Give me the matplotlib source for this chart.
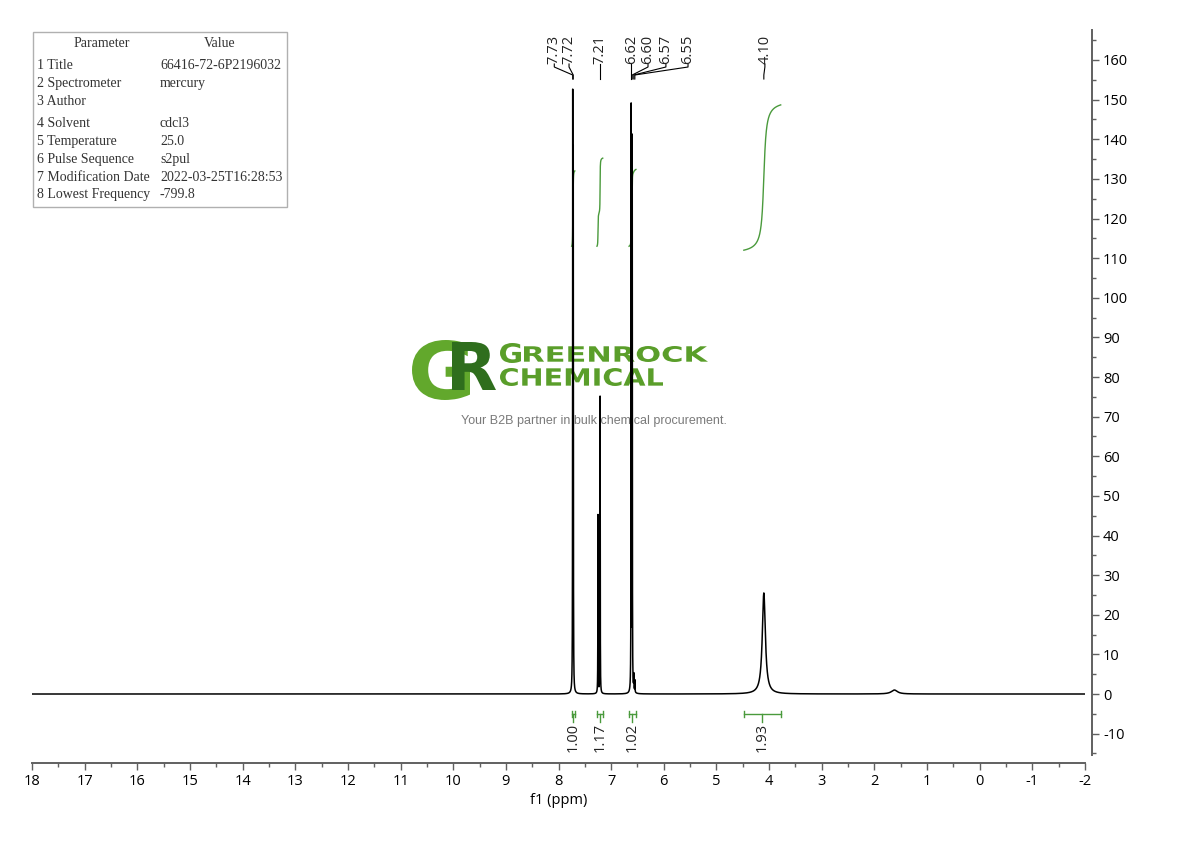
import numpy as np
import matplotlib
matplotlib.use("Agg")
import matplotlib.pyplot as plt
from matplotlib.ticker import MultipleLocator
from matplotlib.textpath import TextPath
from matplotlib.patches import PathPatch, Rectangle
from matplotlib.font_manager import FontProperties
from matplotlib.transforms import Affine2D

plt.rcParams['axes.unicode_minus'] = False
plt.rcParams['font.family'] = ['Open Sans', 'DejaVu Sans']

# peak list: shift (ppm), height, half width (ppm)
peak_ppm = [7.73, 7.72, 7.25, 7.21, 6.62, 6.60, 6.57, 6.55, 4.10, 1.62]
peak_height = [145, 130, 45, 75, 147, 139, 4, 3, 25.5, 1.0]
peak_hwhm = [0.0025, 0.0025, 0.0025, 0.0025, 0.0025, 0.0025, 0.003, 0.003, 0.035, 0.07]

# picked peak labels
label_ppm = [7.73, 7.72, 7.21, 6.62, 6.60, 6.57, 6.55, 4.10]

# integrals: region (from, to), value
int_from = [7.75, 7.27, 6.66, 4.48]
int_to = [7.69, 7.16, 6.53, 3.78]
int_value = [1.00, 1.17, 1.02, 1.93]
int_base = [113, 113, 113, 112]

params = [("1 Title", "66416-72-6P2196032"),
          ("2 Spectrometer", "mercury"),
          ("3 Author", ""),
          ("4 Solvent", "cdcl3"),
          ("5 Temperature", "25.0"),
          ("6 Pulse Sequence", "s2pul"),
          ("7 Modification Date", "2022-03-25T16:28:53"),
          ("8 Lowest Frequency", "-799.8")]

W, H = 1190, 841
fig = plt.figure(figsize=(W / 100, H / 100), dpi=100)
ax = fig.add_axes([32 / W, 78 / H, 1053 / W, 733 / H])
ax.patch.set_visible(False)

ppm = np.arange(18.0, -2.0, -0.0005)
spec = np.zeros_like(ppm)
for p, h, w in zip(peak_ppm, peak_height, peak_hwhm):
    spec += h * w ** 2 / ((ppm - p) ** 2 + w ** 2)

ax.plot(ppm, spec, color='black', lw=1.1, zorder=3)

# integral curves and brackets
green = '#4a9a3c'
for a, b, v, base in zip(int_from, int_to, int_value, int_base):
    m = (ppm <= a) & (ppm >= b)
    cs = np.cumsum(spec[m])
    ax.plot(ppm[m], base + 19 * v * cs / cs[-1], color=green, lw=1.0, zorder=2)
    ax.plot([a, b], [-5.05, -5.05], color=green, lw=1.0)
    ax.plot([a, a], [-4.2, -5.9], color=green, lw=1.0)
    ax.plot([b, b], [-4.2, -5.9], color=green, lw=1.0)
    c = (a + b) / 2
    ax.plot([c, c], [-5.05, -7.0], color=green, lw=1.0)
    ax.text(c, -7.4, f"{v:.2f}", rotation=90, ha='center', va='top',
            fontsize=10.5, color='#222222')

# peak labels on top
tr = ax.get_xaxis_transform()
def fy(ypx):
    return (763 - ypx) / 733

label_pos = [8.08, 7.80, 7.21, 6.62, 6.30, 5.96, 5.54, 4.08]
for p, lp in zip(label_ppm, label_pos):
    ax.text(lp, fy(64), f"{p:.2f}", rotation=90, ha='center', va='bottom',
            fontsize=10.5, color='#222222', transform=tr)
    ax.plot([lp, lp, p, p], [fy(64), fy(67), fy(75), fy(79)], color='black',
            lw=0.8, transform=tr, clip_on=False)

ax.set_xlim(18, -2)
ax.set_ylim(-17.41, 167.57)
ax.set_xticks(range(18, -3, -1))
ax.set_xticklabels([str(t) for t in range(18, -3, -1)])
ax.xaxis.set_minor_locator(MultipleLocator(0.5))
ax.yaxis.tick_right()
ax.set_yticks(range(-10, 161, 10))
ax.yaxis.set_minor_locator(MultipleLocator(5))
for s in ['top', 'left']:
    ax.spines[s].set_visible(False)
ax.spines['right'].set_position(('outward', 5))
ax.spines['right'].set_bounds(-15.5, 167.57)
for s in ['right', 'bottom']:
    ax.spines[s].set_color('#606060')
    ax.spines[s].set_linewidth(1.4)
ax.tick_params(axis='both', which='major', length=5, width=1.0, color='#606060',
               labelsize=10.5, pad=3)
ax.tick_params(axis='both', which='minor', length=3, width=1.0, color='#606060')
ax.set_xlabel("f1 (ppm)", fontsize=10.5, labelpad=3)

# parameter table
fig.add_artist(Rectangle((33, H - 207), 254, 175, transform=Affine2D(),
                         fill=False, edgecolor='#b0b0b0', lw=1.0))
tfont = dict(family='Liberation Serif', fontsize=10, color='#333333', va='baseline')
fig.text(102 / W, 1 - 47 / H, "Parameter", ha='center', **tfont)
fig.text(220 / W, 1 - 47 / H, "Value", ha='center', **tfont)
row_y = [69, 87, 105, 127, 145, 163, 181, 198]
for (name, val), y in zip(params, row_y):
    fig.text(37 / W, 1 - y / H, name, ha='left', **tfont)
    fig.text(160 / W, 1 - y / H, val, ha='left', **tfont)

# watermark logo
def logo_text(s, x0, y0, x1, y1, color):
    tp = TextPath((0, 0), s, size=10, prop=FontProperties(family='DejaVu Sans', weight='bold'))
    bb = tp.get_extents()
    t = Affine2D().translate(-bb.x0, -bb.y0).scale((x1 - x0) / bb.width, (y1 - y0) / bb.height)
    t = t.translate(x0, H - y1)
    fig.add_artist(PathPatch(tp, transform=t, facecolor=color, lw=0, zorder=-1))

logo_text("G", 412, 340, 470, 400, '#62a82c')
logo_text("R", 452, 342, 496, 390, '#2f6e1d')
logo_text("G", 500, 343, 521, 363, '#5a9e2a')
logo_text("REENROCK", 524, 346, 708, 362, '#5a9e2a')
logo_text("CHEMICAL", 500, 368, 663, 386, '#5a9e2a')
fig.text(594 / W, 1 - 421 / H, "Your B2B partner in bulk chemical procurement.",
         ha='center', va='center', fontsize=9, color='#7a7a7a',
         family='Liberation Sans', zorder=-1)

fig.savefig("out.png", dpi=100)
